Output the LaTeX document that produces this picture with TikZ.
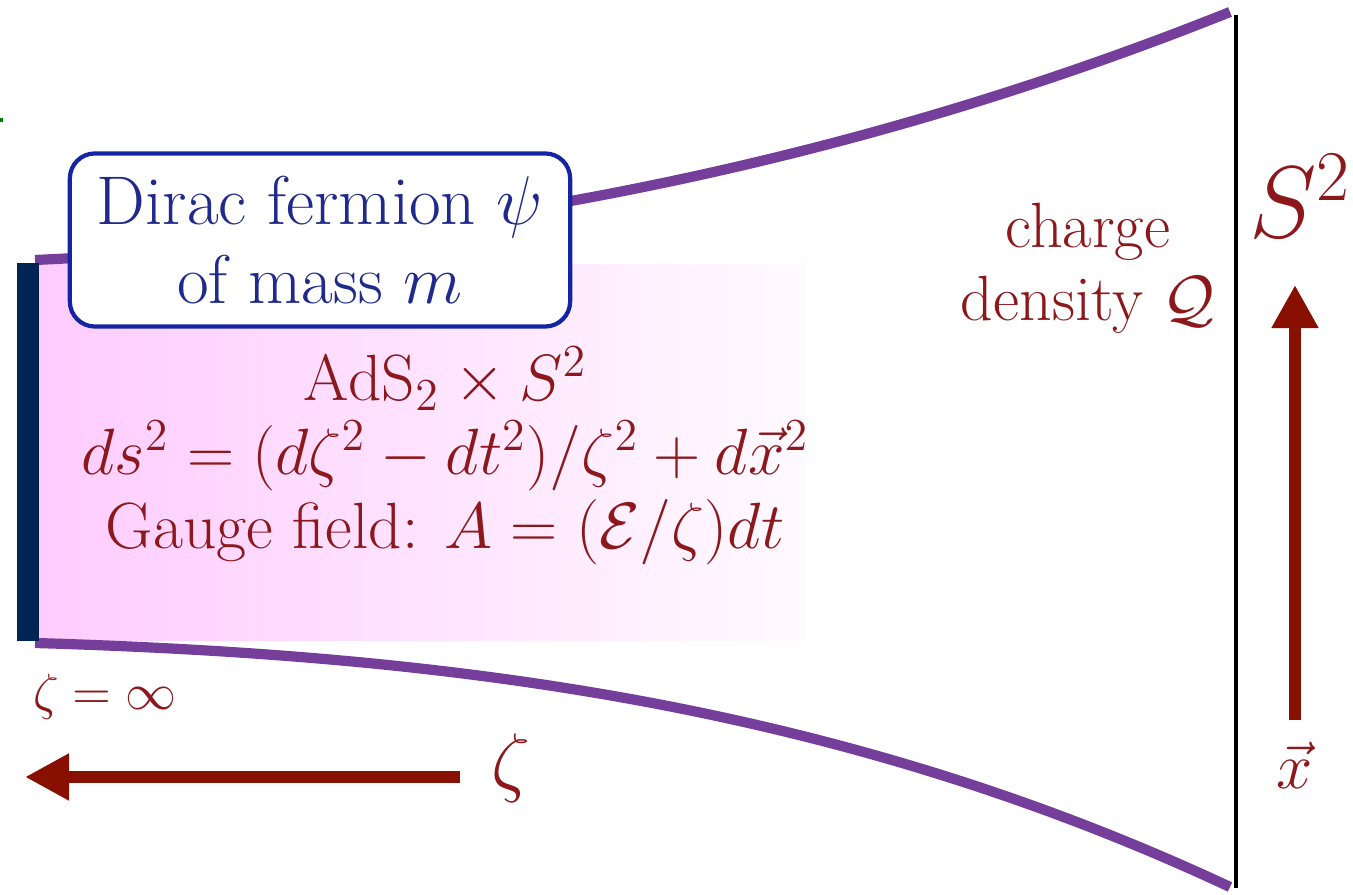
\RequirePackage{fix-cm}
\documentclass[tikz,border=0pt]{standalone}
\usepackage{amsmath,amssymb}
\usepackage{xcolor}
\usepackage{tikz}
\usetikzlibrary{arrows.meta,calc,positioning}
\definecolor{wall}{RGB}{117,62,154}
\definecolor{horizon}{RGB}{0,37,84}
\definecolor{boxblue}{RGB}{20,36,165}
\definecolor{fermion}{RGB}{32,42,140}
\definecolor{bulk}{RGB}{140,24,28}
\definecolor{axis}{RGB}{135,16,0}

\begin{document}
\begin{tikzpicture}[x=0.01cm, y=-0.01cm, every node/.style={text=bulk}]
  \useasboundingbox (0,0) rectangle (1353,895);
  % near-horizon region
  \shade[left color=magenta!20, right color=magenta!2] (39,265) rectangle (805,641);
  \draw[wall, line width=2.9pt] (35,260) .. controls (435,242) and (830,172) .. (1230,12);
  \draw[wall, line width=2.9pt] (35,643) .. controls (435,655) and (830,700) .. (1230,887);
  \fill[horizon] (17,263) rectangle (39,641);
  \draw[black, line width=1.4pt] (1236,15) -- (1236,888);
  \draw[green!50!black, line width=1.2pt] (0,120) -- (3,120);
  \node[draw=boxblue, line width=1.2pt, fill=white, rounded corners=0.25cm, minimum width=5cm, minimum height=1.73cm, align=center, text=fermion, font=\fontsize{19.6}{22.5}\selectfont] (dirac) at (320,240) {Dirac fermion $\psi$\\ of mass $m$};
  \node[align=center, font=\fontsize{18.6}{21}\selectfont] (metric) at (445,456) {$\mathrm{AdS}_2\times S^2$\\ $ds^2=(d\zeta^2-dt^2)/\zeta^2+d\vec{x}^2$\\ Gauge field: $A=(\mathcal{E}/\zeta)dt$};
  \node[align=center, font=\fontsize{18.2}{20.7}\selectfont] (charge) at (1088,268) {charge\\ density $\mathcal{Q}$};
  \node[font=\fontsize{29}{34}\selectfont] (sphere) at (1300,196) {$S^2$};
  \node[font=\fontsize{14.5}{17}\selectfont] (zinf) at (105,697) {$\zeta=\infty$};
  \node[font=\fontsize{22}{26}\selectfont] (zlabel) at (511,768) {$\zeta$};
  \node[font=\fontsize{18.5}{22}\selectfont] (xlabel) at (1295,765) {$\vec{x}$};
  % axes
  \coordinate (ztail) at (460,777);
  \coordinate (zhead) at (25,777);
  \coordinate (xtail) at (1295,720);
  \coordinate (xhead) at (1295,285);
  \draw[-{Triangle[length=4.4mm, width=4.4mm]}, line width=3.2pt, color=axis] (ztail) -- (zhead);
  \draw[-{Triangle[length=4.3mm, width=4.4mm]}, line width=3.2pt, color=axis] (xtail) -- (xhead);
\end{tikzpicture}
\end{document}
